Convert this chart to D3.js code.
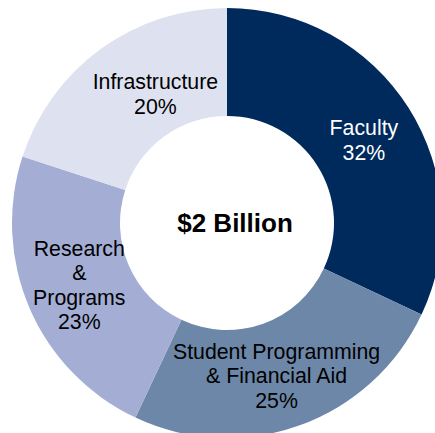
<!DOCTYPE html>
<html><head><meta charset="utf-8">
<script src="https://cdn.jsdelivr.net/npm/d3@7"></script>
<style>html,body{margin:0;padding:0;background:#fff;overflow:hidden}</style>
</head><body>
<svg id="c" width="435" height="433"></svg>
<script>
const categories = ["Faculty", "Student Programming\n& Financial Aid", "Research\n&\nPrograms", "Infrastructure"];
const values = [32, 25, 23, 20];
const colors = ["#002a5c", "#6d87a8", "#a4aed5", "#dee2f0"];
const textColors = ["#ffffff", "#000000", "#000000", "#000000"];
const centerLabel = "$2 Billion";

const svg = d3.select("#c");
const cx = 227, cy = 223, rOuter = 215, rInner = 107;
const g = svg.append("g").attr("transform", `translate(${cx},${cy})`);

const pie = d3.pie().sort(null).value(d => d.v);
const data = pie(categories.map((c, i) => ({c, v: values[i], i})));
const arc = d3.arc().innerRadius(rInner).outerRadius(rOuter);

g.selectAll("path").data(data).enter().append("path")
  .attr("d", arc).attr("fill", d => colors[d.data.i]);

// label placement radius and small nudges per slice
const labelArc = d3.arc().innerRadius(161).outerRadius(161);
const nudges = [[1, 3], [-5, 1.5], [0, -2], [23, 1.5]];
const lineH = 24.6;
data.forEach((d, k) => {
  const [x, y] = labelArc.centroid(d);
  const lines = d.data.c.split("\n").concat([d.data.v + "%"]);
  const x0 = x + nudges[k][0], y0 = y + nudges[k][1];
  const t = g.append("text")
    .attr("text-anchor", "middle")
    .attr("font-family", "Liberation Sans, Arial, sans-serif")
    .attr("font-size", 21.3)
    .attr("fill", textColors[d.data.i]);
  lines.forEach((ln, j) => {
    t.append("tspan").attr("x", x0)
      .attr("y", y0 + (j - (lines.length - 1) / 2) * lineH + 7.5)
      .text(ln);
  });
});

g.append("text").attr("x", 8).attr("y", 9)
  .attr("text-anchor", "middle")
  .attr("font-family", "Liberation Sans, Arial, sans-serif")
  .attr("font-weight", "bold").attr("font-size", 26)
  .attr("fill", "#000").text(centerLabel);
</script>
</body></html>
